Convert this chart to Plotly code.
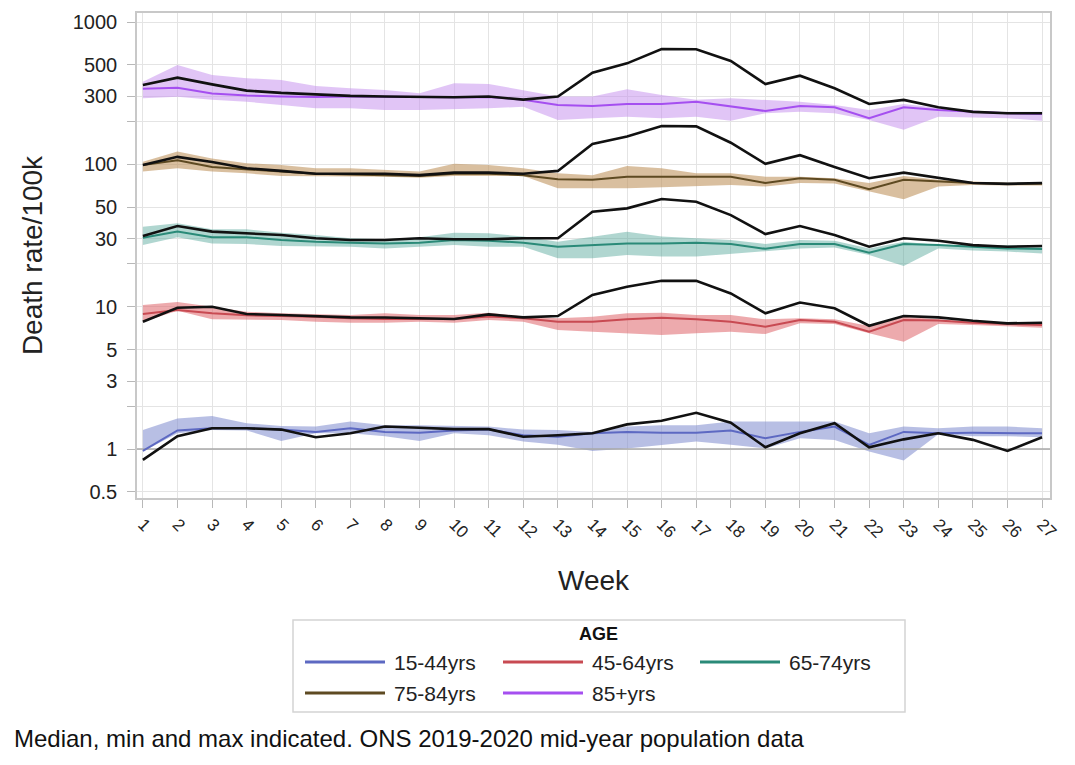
import math
import plotly.graph_objects as go

weeks = list(range(1, 28))
week_labels = [str(w) for w in weeks]

age_groups = ["15-44yrs", "45-64yrs", "65-74yrs", "75-84yrs", "85+yrs"]

# 15-44yrs: median, min, max of previous years and the 2020 series
med_15_44 = [0.97, 1.35, 1.40, 1.40, 1.37, 1.32, 1.40, 1.32, 1.30, 1.35, 1.37, 1.25, 1.22, 1.29,
             1.32, 1.30, 1.30, 1.35, 1.19, 1.32, 1.44, 1.07, 1.32, 1.29, 1.30, 1.30, 1.29]
min_15_44 = [0.96, 1.29, 1.36, 1.35, 1.14, 1.29, 1.29, 1.23, 1.14, 1.29, 1.25, 1.13, 1.07, 0.97,
             1.01, 1.07, 1.13, 1.07, 1.01, 1.19, 1.16, 0.96, 0.83, 1.27, 1.23, 1.23, 1.21]
max_15_44 = [1.36, 1.64, 1.71, 1.52, 1.45, 1.44, 1.56, 1.47, 1.47, 1.45, 1.44, 1.37, 1.36, 1.32,
             1.44, 1.47, 1.47, 1.56, 1.56, 1.56, 1.56, 1.29, 1.44, 1.40, 1.44, 1.44, 1.40]
y2020_15_44 = [0.84, 1.23, 1.40, 1.40, 1.37, 1.21, 1.29, 1.44, 1.41, 1.38, 1.38, 1.22, 1.25, 1.29,
               1.49, 1.58, 1.80, 1.53, 1.03, 1.29, 1.52, 1.03, 1.17, 1.29, 1.16, 0.97, 1.21]

# 45-64yrs
med_45_64 = [8.9, 9.5, 9.0, 8.7, 8.6, 8.5, 8.3, 8.2, 8.2, 8.2, 8.55, 8.3, 7.85, 7.85,
             8.15, 8.37, 8.15, 7.85, 7.24, 8.07, 7.85, 6.67, 8.07, 8.0, 7.72, 7.56, 7.44]
min_45_64 = [7.85, 9.37, 8.15, 8.07, 8.07, 7.85, 7.72, 7.72, 7.85, 7.72, 8.07, 7.85, 6.86, 6.67,
             6.5, 6.32, 6.5, 6.67, 6.43, 7.64, 7.56, 6.5, 5.68, 7.56, 7.44, 7.24, 7.12]
max_45_64 = [10.3, 10.8, 10.0, 9.22, 9.0, 8.89, 8.74, 9.0, 8.74, 8.74, 9.08, 8.55, 8.3, 8.5,
             9.0, 9.08, 8.74, 8.74, 8.15, 8.3, 8.15, 7.31, 8.5, 8.15, 7.85, 7.72, 7.72]
y2020_45_64 = [7.85, 9.84, 10.0, 8.89, 8.74, 8.6, 8.42, 8.4, 8.28, 8.2, 8.84, 8.42, 8.6, 12.1,
               13.8, 15.2, 15.2, 12.4, 8.99, 10.7, 9.75, 7.35, 8.6, 8.42, 7.97, 7.64, 7.72]

# 65-74yrs
med_65_74 = [30.5, 33.7, 30.8, 30.8, 29.4, 28.6, 28.2, 27.8, 28.2, 29.4, 29.1, 28.2, 26.4, 27.1,
             27.8, 27.8, 28.2, 27.6, 25.5, 27.6, 27.6, 24.0, 27.6, 27.1, 26.4, 25.7, 25.4]
min_65_74 = [27.1, 30.8, 27.8, 27.6, 26.7, 26.7, 26.4, 25.7, 26.4, 27.1, 26.4, 26.4, 21.9, 21.9,
             23.1, 22.5, 22.5, 23.5, 24.4, 25.7, 26.1, 23.1, 19.3, 25.7, 24.8, 24.4, 23.7]
max_65_74 = [36.5, 38.6, 35.0, 35.0, 33.1, 31.9, 30.3, 29.8, 30.8, 33.1, 32.8, 31.1, 28.6, 31.1,
             33.7, 31.1, 30.3, 29.4, 27.6, 29.4, 29.1, 25.7, 28.6, 27.1, 27.1, 27.1, 27.1]
y2020_65_74 = [31.4, 36.9, 33.7, 32.8, 31.9, 30.3, 29.4, 29.4, 30.3, 29.8, 29.8, 30.3, 30.3, 46.5,
               49.1, 57.1, 54.7, 44.0, 32.4, 36.9, 31.9, 26.4, 30.3, 29.1, 27.1, 26.4, 26.7]

# 75-84yrs
med_75_84 = [99, 107, 96, 92, 89, 86, 85, 84, 83, 86, 86, 84, 78.6, 78,
             82, 82, 82, 82, 74, 80, 78, 67, 78, 75.6, 74, 73, 73]
min_75_84 = [89, 94, 89, 86.5, 83, 83, 83, 82, 80.5, 83, 83, 83, 68, 68,
             68, 69, 70, 71.6, 70, 74, 73.5, 65, 57, 70, 71.6, 71, 71]
max_75_84 = [104.5, 123, 110, 102, 99, 94, 94, 91, 89, 101, 99, 94, 86.5, 84,
             97.5, 94, 86.5, 86.5, 82, 82, 80, 74, 83, 78, 76, 74, 74]
y2020_75_84 = [99, 113, 104, 94, 90, 86, 86, 86, 84, 87.5, 87.5, 86, 90, 139,
               157, 186, 185, 142, 101, 116, 96, 80, 87.5, 80, 74, 73, 74]

# 85+yrs
med_85 = [340, 345, 315, 305, 300, 298, 300, 298, 297, 296, 298, 285, 261, 257,
          266, 266, 276, 257, 237, 257, 252, 211, 252, 241, 234, 229, 226]
min_85 = [291, 299, 285, 276, 261, 248, 248, 241, 241, 244, 248, 254, 205, 211,
          216, 211, 216, 203, 229, 234, 229, 205, 175, 216, 213, 211, 203]
max_85 = [381, 500, 425, 403, 392, 356, 343, 333, 316, 371, 367, 333, 300, 300,
          337, 307, 285, 291, 285, 276, 261, 241, 266, 248, 234, 234, 234]
y2020_85 = [361, 407, 365, 330, 318, 310, 303, 300, 298, 296, 300, 285, 300, 441,
            513, 647, 644, 533, 367, 420, 343, 266, 284, 252, 234, 229, 229]

y_tick_vals = [0.5, 1, 2, 3, 5, 10, 20, 30, 50, 100, 200, 300, 500, 1000]
y_tick_text = ["0.5", "1", "", "3", "5", "10", "", "30", "50", "100", "", "300", "500", "1000"]

line_colors = ["#5d69c2", "#c84a52", "#2a8a78", "#5e4a22", "#a54ff0"]
band_colors = ["rgba(125,138,205,0.55)", "rgba(222,100,105,0.55)", "rgba(80,165,150,0.45)",
               "rgba(192,148,95,0.6)", "rgba(195,140,238,0.5)"]

series = [
    (med_15_44, min_15_44, max_15_44, y2020_15_44),
    (med_45_64, min_45_64, max_45_64, y2020_45_64),
    (med_65_74, min_65_74, max_65_74, y2020_65_74),
    (med_75_84, min_75_84, max_75_84, y2020_75_84),
    (med_85, min_85, max_85, y2020_85),
]

FONT = "Liberation Sans, Arial, sans-serif"
X_RANGE = [0.83, 27.23]

fig = go.Figure()

# min-max envelopes
for (med, lo, hi, cur), bc in zip(series, band_colors):
    fig.add_trace(go.Scatter(x=weeks, y=hi, mode="lines", line=dict(width=0),
                             showlegend=False, hoverinfo="skip"))
    fig.add_trace(go.Scatter(x=weeks, y=lo, mode="lines", line=dict(width=0),
                             fill="tonexty", fillcolor=bc, showlegend=False, hoverinfo="skip"))

# reference line at 1
fig.add_trace(go.Scatter(x=X_RANGE, y=[1, 1], mode="lines",
                         line=dict(color="#a8a8a8", width=1.5), showlegend=False, hoverinfo="skip"))

# medians
for (med, lo, hi, cur), lc, name in zip(series, line_colors, age_groups):
    fig.add_trace(go.Scatter(x=weeks, y=med, mode="lines", name=name,
                             line=dict(color=lc, width=2), showlegend=False))

# 2020 weekly rates
for (med, lo, hi, cur), name in zip(series, age_groups):
    fig.add_trace(go.Scatter(x=weeks, y=cur, mode="lines", name=name + " 2020",
                             line=dict(color="#111111", width=2.6), showlegend=False))

fig.update_layout(
    width=1075, height=765,
    margin=dict(l=137, r=25, t=13, b=267),
    paper_bgcolor="white", plot_bgcolor="white",
    showlegend=False,
    font=dict(family=FONT, color="#222222"),
)

fig.update_xaxes(
    range=X_RANGE, tickmode="array", tickvals=weeks, ticktext=week_labels,
    tickangle=45, tickfont=dict(size=17, color="#222222"),
    showgrid=True, gridcolor="#e4e4e4", gridwidth=1,
    showline=True, linecolor="#c8c8c8", linewidth=1.5, mirror=True,
    ticks="outside", ticklen=8, tickcolor="#b8b8b8",
    zeroline=False,
    title=dict(text="Week", font=dict(size=28, color="#222222"), standoff=30),
)

fig.update_yaxes(
    type="log", range=[math.log10(0.453), math.log10(1158)],
    tickmode="array", tickvals=y_tick_vals, ticktext=y_tick_text,
    tickfont=dict(size=20, color="#222222"),
    ticklabelstandoff=6,
    showgrid=True, gridcolor="#e4e4e4", gridwidth=1,
    showline=True, linecolor="#c8c8c8", linewidth=1.5, mirror=True,
    ticks="outside", ticklen=8, tickcolor="#b8b8b8",
    zeroline=False,
    title=dict(text="Death rate/100k", font=dict(size=28, color="#222222"), standoff=22),
)

# legend panel below the plot, laid out in pixel units
PL, PR, PT, PB = 137, 1050, 13, 498


def px_x(px):
    return (px - PL) / (PR - PL)


def px_y(py):
    return (PB - py) / (PB - PT)


fig.add_shape(type="rect", xref="paper", yref="paper",
              x0=px_x(293), x1=px_x(905), y0=px_y(712), y1=px_y(620),
              line=dict(color="#d4d4d4", width=1.5), fillcolor="white")
fig.add_annotation(xref="paper", yref="paper", x=px_x(598), y=px_y(634),
                   text="<b>AGE</b>", showarrow=False, font=dict(size=18, color="#111111"),
                   xanchor="center", yanchor="middle")

entry_pos = [(305, 662), (503, 662), (700, 662), (305, 693), (503, 693)]
for (ex, ey), name, lc in zip(entry_pos, age_groups, line_colors):
    fig.add_shape(type="line", xref="paper", yref="paper",
                  x0=px_x(ex), x1=px_x(ex + 80), y0=px_y(ey), y1=px_y(ey),
                  line=dict(color=lc, width=3))
    fig.add_annotation(xref="paper", yref="paper", x=px_x(ex + 87), y=px_y(ey),
                       text=name, showarrow=False, font=dict(size=21, color="#222222"),
                       xanchor="left", yanchor="middle")

fig.add_annotation(xref="paper", yref="paper", x=px_x(12), y=px_y(738),
                   text="Median, min and max indicated. ONS 2019-2020 mid-year population data",
                   showarrow=False, font=dict(size=24, color="#111111"),
                   xanchor="left", yanchor="middle")

fig.write_html("out.html")
